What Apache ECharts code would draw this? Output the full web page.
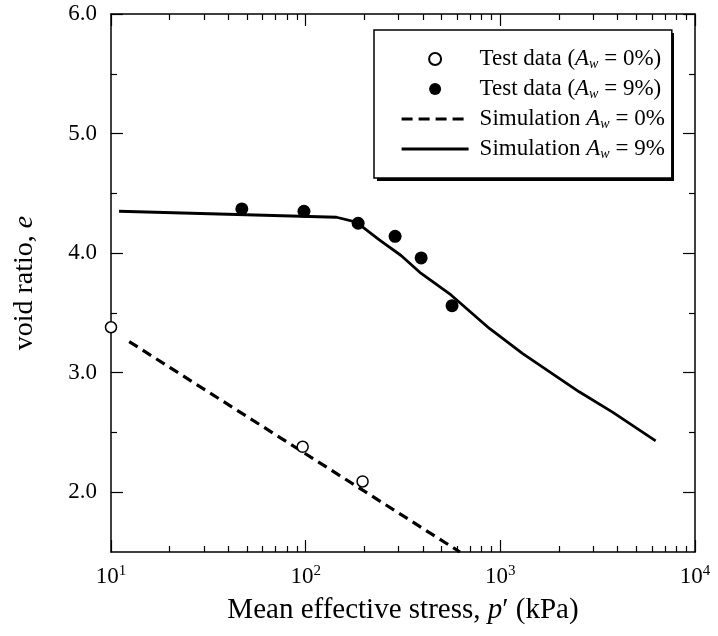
<!DOCTYPE html>
<html>
<head>
<meta charset="utf-8">
<title>void ratio vs mean effective stress</title>
<script src="https://cdn.jsdelivr.net/npm/echarts@6/dist/echarts.min.js"></script>
<style>
  html, body { margin: 0; padding: 0; background: #fff; }
  #chart { width: 718px; height: 636px; }
</style>
</head>
<body>
<div id="chart"></div>
<script>
// values: [p' (kPa), e]
const seriesNames = ['Test data (Aw = 0%)', 'Test data (Aw = 9%)', 'Simulation Aw = 0%', 'Simulation Aw = 9%']
const testDry = [[10, 3.38], [96.5, 2.38], [196, 2.09]]
const testWet = [[47, 4.37], [98, 4.35], [186, 4.25], [288, 4.14], [392, 3.96], [565, 3.56]]
const simDry = [[12.4, 3.26], [620, 1.5]]
const simWet = [[11, 4.35], [144, 4.30], [182, 4.26], [239, 4.11], [309, 3.98], [392, 3.83],
  [558, 3.65], [879, 3.37], [1303, 3.16], [2540, 2.84], [3770, 2.67], [6280, 2.43]]

const yMajor = [2, 3, 4, 5, 6]
const yMinor = [2.5, 3.5, 4.5, 5.5]
const xMinor = [20, 30, 40, 50, 60, 70, 80, 90, 200, 300, 400, 500, 600, 700, 800, 900,
  2000, 3000, 4000, 5000, 6000, 7000, 8000, 9000]

const serif = 'Liberation Serif'
const legendRich = {
  t: { fontFamily: serif, fontSize: 23, lineHeight: 24, color: '#000' },
  i: { fontFamily: serif, fontSize: 23, lineHeight: 24, fontStyle: 'italic', color: '#000' },
  s: { fontFamily: serif, fontSize: 14, lineHeight: 24, fontStyle: 'italic', color: '#000', padding: [10, 0, 0, 0] }
}
const legendLabels = {
  'Test data (Aw = 0%)': '{t|Test data (}{i|A}{s|w}{t| = 0%)}',
  'Test data (Aw = 9%)': '{t|Test data (}{i|A}{s|w}{t| = 9%)}',
  'Simulation Aw = 0%': '{t|Simulation }{i|A}{s|w}{t| = 0%}',
  'Simulation Aw = 9%': '{t|Simulation }{i|A}{s|w}{t| = 9%}'
}

function logAxis (position, extra) {
  return Object.assign({
    type: 'log',
    logBase: 10,
    min: 10,
    max: 10000,
    position: position,
    splitLine: { show: false },
    axisLine: { show: true, onZero: false, lineStyle: { color: '#000', width: 1.5 } },
    axisTick: { show: true, inside: true, length: 12, lineStyle: { color: '#000', width: 1.2 } },
    axisLabel: { show: false }
  }, extra)
}

function ratioAxis (position, extra) {
  return Object.assign({
    type: 'value',
    min: 1.5,
    max: 6,
    position: position,
    splitLine: { show: false },
    axisLine: { show: true, onZero: false, lineStyle: { color: '#000', width: 1.5 } },
    axisTick: { show: true, inside: true, length: 12, customValues: yMajor, lineStyle: { color: '#000', width: 1.2 } },
    axisLabel: { show: false }
  }, extra)
}

const minorTick = (vals) => ({ show: true, inside: true, length: 6, customValues: vals, lineStyle: { color: '#000', width: 1.2 } })

const chart = echarts.init(document.getElementById('chart'))

chart.setOption({
  backgroundColor: '#fff',
  animation: false,
  grid: { left: 111, right: 23, top: 14, bottom: 84 },
  // hard shadow behind the legend box
  graphic: [{
    type: 'rect',
    z: 3,
    shape: { x: 377, y: 33, width: 297, height: 148 },
    style: { fill: '#000' }
  }],
  legend: {
    data: [
      { name: seriesNames[0] },
      { name: seriesNames[1], itemStyle: { borderWidth: 0 } },
      { name: seriesNames[2], itemStyle: { opacity: 0 }, lineStyle: { width: 3.2, type: [11, 6] } },
      { name: seriesNames[3], itemStyle: { opacity: 0 }, lineStyle: { width: 3.2 } }
    ],
    orient: 'vertical',
    left: 374,
    top: 30,
    z: 4,
    padding: [17, 7, 17, 26],
    itemGap: 6,
    itemWidth: 67,
    itemHeight: 12,
    backgroundColor: '#fff',
    borderColor: '#000',
    borderWidth: 1.5,
    borderRadius: 0,
    formatter: (name) => legendLabels[name],
    textStyle: { padding: [0, 0, 0, 6], rich: legendRich }
  },
  xAxis: [
    logAxis('bottom', {
      name: '{t|Mean effective stress, }{i|p}{t|′ (kPa)}',
      nameLocation: 'middle',
      nameGap: 44,
      nameTextStyle: {
        rich: {
          t: { fontFamily: serif, fontSize: 29, color: '#000' },
          i: { fontFamily: serif, fontSize: 29, fontStyle: 'italic', color: '#000' }
        }
      },
      axisLabel: {
        show: true,
        margin: 12,
        formatter: (v) => '{b|10}{sup|' + Math.round(Math.log10(v)) + '}',
        rich: {
          b: { fontFamily: serif, fontSize: 23, color: '#000' },
          sup: { fontFamily: serif, fontSize: 15, color: '#000', padding: [0, 0, 11, 0] }
        }
      }
    }),
    logAxis('top', {}),
    logAxis('bottom', { axisLine: { show: false }, axisTick: minorTick(xMinor) }),
    logAxis('top', { axisLine: { show: false }, axisTick: minorTick(xMinor) })
  ],
  yAxis: [
    ratioAxis('left', {
      name: '{t|void ratio, }{i|e}',
      nameLocation: 'middle',
      nameGap: 72,
      nameRotate: 90,
      nameTextStyle: {
        rich: {
          t: { fontFamily: serif, fontSize: 28, color: '#000' },
          i: { fontFamily: serif, fontSize: 28, fontStyle: 'italic', color: '#000' }
        }
      },
      axisLabel: {
        show: true,
        margin: 14,
        customValues: yMajor,
        formatter: (v) => v.toFixed(1),
        fontFamily: serif,
        fontSize: 23,
        color: '#000'
      }
    }),
    ratioAxis('right', {}),
    ratioAxis('left', { axisLine: { show: false }, axisTick: minorTick(yMinor) }),
    ratioAxis('right', { axisLine: { show: false }, axisTick: minorTick(yMinor) })
  ],
  series: [
    {
      name: seriesNames[0],
      type: 'scatter',
      data: testDry,
      symbol: 'circle',
      symbolSize: 11,
      clip: false,
      z: 5,
      itemStyle: { color: '#fff', borderColor: '#000', borderWidth: 1.5, opacity: 1 }
    },
    {
      name: seriesNames[1],
      type: 'scatter',
      data: testWet,
      symbol: 'circle',
      symbolSize: 13,
      z: 5,
      itemStyle: { color: '#000', opacity: 1 }
    },
    {
      name: seriesNames[2],
      type: 'line',
      data: simDry,
      symbol: 'none',
      itemStyle: { color: '#000' },
      lineStyle: { color: '#000', width: 3.2, type: [10, 6] }
    },
    {
      name: seriesNames[3],
      type: 'line',
      data: simWet,
      symbol: 'none',
      itemStyle: { color: '#000' },
      lineStyle: { color: '#000', width: 2.8 }
    }
  ]
})
</script>
</body>
</html>
